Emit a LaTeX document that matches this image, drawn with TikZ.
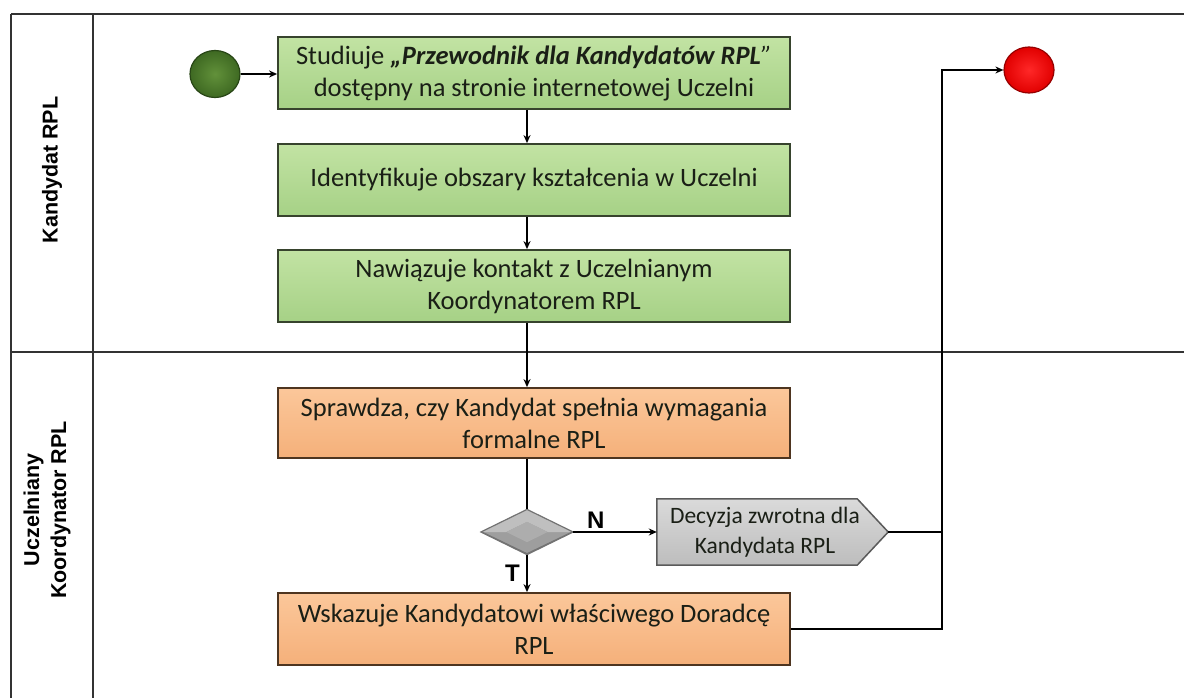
\documentclass[tikz,border=0pt]{standalone}
\usepackage{fontspec}
\setmainfont{Carlito}
\newfontfamily\lanefont{Liberation Sans}
\usetikzlibrary{shapes.geometric,arrows.meta,calc}
\definecolor{gtop}{HTML}{C2E3A3}
\definecolor{gbot}{HTML}{A6D186}
\definecolor{gdraw}{HTML}{37432D}
\definecolor{otop}{HTML}{FBC79A}
\definecolor{obot}{HTML}{F5B07A}
\definecolor{odraw}{HTML}{4E3520}
\definecolor{ptop}{HTML}{DADADA}
\definecolor{pbot}{HTML}{BDBDBD}
\definecolor{pdraw}{HTML}{5A5A5A}
\definecolor{lanecol}{HTML}{333333}
\definecolor{txt}{HTML}{1A1F16}
\tikzset{
  lane/.style={draw=lanecol, line width=1.3pt},
  proc/.style={rectangle, line width=1.8pt, minimum width=512pt, minimum height=72pt,
     align=center, inner sep=1pt, text=txt, font=\fontsize{26.5}{32}\selectfont},
  gproc/.style={proc, draw=gdraw, top color=gtop, bottom color=gbot},
  oproc/.style={proc, draw=odraw, top color=otop, bottom color=obot},
  conn/.style={draw=black, line width=1.6pt},
  arr/.style={conn, -{Stealth[length=8pt,width=7pt]}},
  lanelab/.style={rotate=90, align=center, font=\lanefont\bfseries\fontsize{21.5}{27}\selectfont},
  yn/.style={font=\lanefont\bfseries\fontsize{24}{26}\selectfont},
}
\begin{document}
\begin{tikzpicture}[x=1pt,y=-1pt]
\useasboundingbox (0,0) rectangle (1184,698);
\fill[white] (0,0) rectangle (1184,698);
% swimlanes
\draw[lane] (11,14) -- (1184,14);
\draw[lane] (11,352) -- (1184,352);
\draw[lane] (11,14) -- (11,698);
\draw[lane] (93,14) -- (93,698);
\node[lanelab] (l1) at (52,170) {Kandydat RPL};
\node[lanelab] (l2) at (47,510) {Uczelniany\\Koordynator RPL};
% events
\node[ellipse, minimum width=50pt, minimum height=47pt, inner sep=0pt, line width=1.2pt,
      draw={rgb,255:red,40;green,70;blue,22}, inner color={rgb,255:red,98;green,145;blue,58}, outer color={rgb,255:red,62;green,105;blue,34}] (start) at (215,74) {};
\node[ellipse, minimum width=50pt, minimum height=46pt, inner sep=0pt, line width=1.2pt,
      draw={rgb,255:red,150;green,0;blue,0}, inner color={rgb,255:red,255;green,40;blue,40}, outer color={rgb,255:red,225;green,0;blue,0}] (stop) at (1029,70) {};
% tasks
\node[gproc] (b1) at (534,73) {Studiuje \textbf{\textit{„Przewodnik dla Kandydatów RPL}}\textit{”}\\dostępny na stronie internetowej Uczelni};
\node[gproc] (b2) at (534,180) {Identyfikuje obszary kształcenia w Uczelni};
\node[gproc] (b3) at (534,286) {Nawiązuje kontakt z Uczelnianym\\Koordynatorem RPL};
\node[oproc, minimum height=70pt] (o1) at (534,423) {Sprawdza, czy Kandydat spełnia wymagania\\formalne RPL};
\node[oproc] (o2) at (534,629) {Wskazuje Kandydatowi właściwego Doradcę\\RPL};
% gateway
\node[diamond, minimum width=91pt, minimum height=44pt, inner sep=0pt, line width=1.2pt,
      draw=black!55, fill=black!38] (dia) at (527,532) {};
\fill[black!25] (dia.north) -- (dia.east) -- ($(dia.center)!0.45!(dia.east)$) -- ($(dia.center)!0.45!(dia.north)$) -- ($(dia.center)!0.45!(dia.west)$) -- (dia.west) -- cycle;
\fill[black!32] ($(dia.center)!0.45!(dia.north)$) -- ($(dia.center)!0.45!(dia.east)$) -- ($(dia.center)!0.45!(dia.south)$) -- ($(dia.center)!0.45!(dia.west)$) -- cycle;
\draw[line width=1.2pt, draw=black!55] (dia.north) -- (dia.east) -- (dia.south) -- (dia.west) -- cycle;
% feedback pentagon
\node[rectangle, minimum width=200pt, minimum height=66pt, inner sep=0pt] (fb) at (757,532) {};
\coordinate (fbtip) at ($(fb.east)+(31,0)$);
\draw[line width=1.5pt, draw=pdraw, top color=ptop, bottom color=pbot]
  (fb.north west) -- (fb.north east) -- (fbtip) -- (fb.south east) -- (fb.south west) -- cycle;
\node[align=center, text=txt, font=\fontsize{23.5}{30}\selectfont] (fbt) at ($(fb.center)+(8,0)$) {Decyzja zwrotna dla\\Kandydata RPL};
% connectors
\coordinate (vx) at (942,0);
\draw[arr] (start.east) -- (b1.west |- start.east);
\draw[arr] (b1.south -| dia.north) -- (b2.north -| dia.north);
\draw[arr] (b2.south -| dia.north) -- (b3.north -| dia.north);
\draw[arr] (b3.south -| dia.north) -- (o1.north -| dia.north);
\draw[conn] (o1.south -| dia.north) -- (dia.north);
\draw[arr] (dia.south) -- (o2.north -| dia.south) node[pos=0.5, left=3pt, yn] (tl) {T};
\draw[arr] (dia.east) -- (fb.west) node[pos=0.27, above=-1pt, yn] (nl) {N};
\draw[conn] (fbtip) -- (fbtip -| vx);
\draw[arr] (o2.east) -- (o2.east -| vx) -- (vx |- stop.west) -- (stop.west);
\end{tikzpicture}
\end{document}
